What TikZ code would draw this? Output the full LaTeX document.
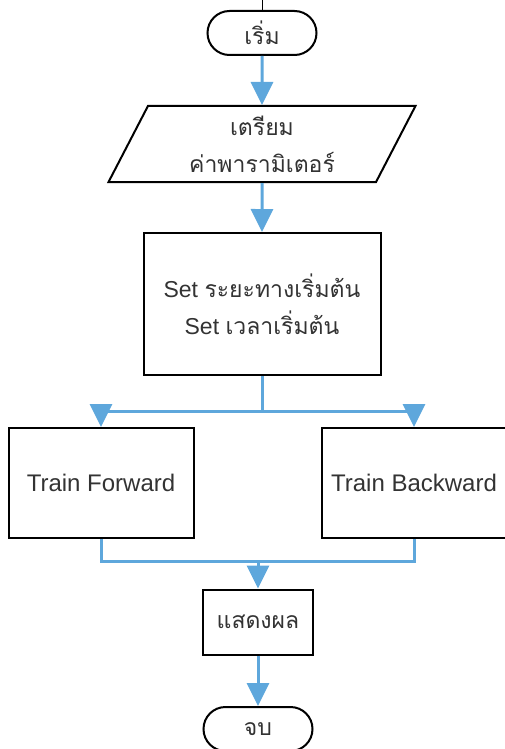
\documentclass[tikz,border=0pt]{standalone}
\usepackage{fontspec}
\setmainfont{Liberation Sans}
\newfontfamily\thaifont[Script=Thai]{Loma}
\usepackage{tikz}
\usetikzlibrary{shapes.geometric}
\usetikzlibrary{arrows.meta}
\usetikzlibrary{calc}

\definecolor{flowblue}{RGB}{94,167,220}
\definecolor{textgray}{RGB}{51,51,51}

\begin{document}
\begin{tikzpicture}[x=1pt, y=-1pt,
	box/.style={draw=black, line width=2pt, fill=white, text=textgray, align=center, inner sep=0pt, font=\fontsize{23}{37}\selectfont},
	thai/.style={font=\thaifont\fontsize{23}{37}\selectfont},
	train/.style={box, font=\fontsize{24}{37}\selectfont, minimum width=185pt, minimum height=110pt},
	term/.style={box, thai, rounded corners=22pt, minimum width=109pt, minimum height=44pt},
	io/.style={box, thai, trapezium, trapezium left angle=66, trapezium right angle=114, trapezium stretches=true, minimum width=307pt, minimum height=76pt},
	line/.style={draw=flowblue, line width=3pt},
	arrow/.style={line, -{Triangle[width=22pt,length=23pt]}}]

	\useasboundingbox (0,0) rectangle (504,749);

	\def\mx{262};
	\def\my{258};

	% flow boxes, top to bottom
	\node[term] (start) at (\mx,33) {เริ่ม};
	\node[io] (param) at (\mx,144) {เตรียม\\ค่าพารามิเตอร์};
	\node[box, minimum width=237pt, minimum height=142pt] (setbox) at (\mx,304) {Set {\thaifont ระยะทางเริ่มต้น}\\Set {\thaifont เวลาเริ่มต้น}};
	\node[train] (fwd) at (101,483) {Train Forward};
	\node[train] (bwd) at (414,483) {Train Backward};
	\node[box, thai, minimum width=110pt, minimum height=65pt] (show) at (\my,622) {แสดงผล};
	\node[term] (stop) at (\my,729) {จบ};

	\draw[line width=1pt] (start.north) -- ++(0,-12);

	\foreach \a/\b in {start/param, param/setbox, show/stop} {
		\draw[arrow] (\a.south) -- (\b.north);
	}

	% split to both trains, then join again
	\coordinate (split) at (\mx,411);
	\coordinate (merge) at (\my,561);
	\draw[line] (setbox.south) -- (split);
	\draw[arrow] (split) -| (fwd.north);
	\draw[arrow] (split) -| (bwd.north);
	\draw[line] (fwd.south) |- (merge) -| (bwd.south);
	\draw[arrow] (merge) -- (show.north);

\end{tikzpicture}
\end{document}
